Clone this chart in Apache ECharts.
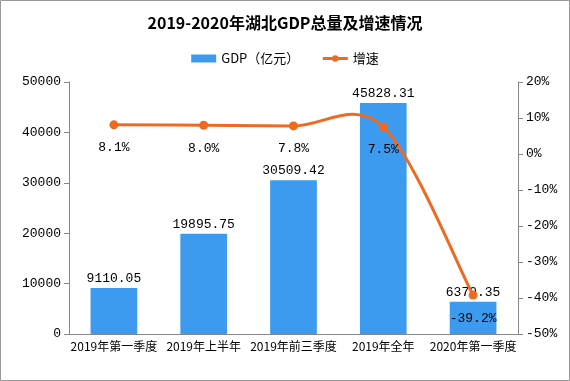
<!DOCTYPE html>
<html><head><meta charset="utf-8">
<script src="https://cdn.jsdelivr.net/npm/echarts@6/dist/echarts.min.js"></script>
<style>html,body{margin:0;padding:0;background:#fff}#c{width:570px;height:381px}</style>
</head><body><div id="c"></div>
<script>
const categories = ['2019年第一季度','2019年上半年','2019年前三季度','2019年全年','2020年第一季度'];
const gdpValues = [9110.05, 19895.75, 30509.42, 45828.31, 6379.35];
const growthValues = [8.1, 8.0, 7.8, 7.5, -39.2];
const leftTicks = [0, 10000, 20000, 30000, 40000, 50000];
const rightTicks = [-50, -40, -30, -20, -10, 0, 10, 20];

const mono = '"Liberation Mono","DejaVu Sans Mono",monospace';
const cjk = '"Noto Sans CJK SC","Noto Sans",sans-serif';
const orange = '#EE6A22';
const chart = echarts.init(document.getElementById('c'));

function curveItem(params, api) {
  if (params.dataIndex !== 0) return null;
  const pts = growthValues.map((v, i) => api.coord([i, v]));
  const n = pts.length;
  let d = 'M' + pts[0][0] + ' ' + pts[0][1];
  for (let i = 0; i < n - 1; i++) {
    const p0 = pts[Math.max(i - 1, 0)], p1 = pts[i], p2 = pts[i + 1], p3 = pts[Math.min(i + 2, n - 1)];
    const c1 = [p1[0] + (p2[0] - p0[0]) / 6, p1[1] + (p2[1] - p0[1]) / 6];
    const c2 = [p2[0] - (p3[0] - p1[0]) / 6, p2[1] - (p3[1] - p1[1]) / 6];
    d += ' C' + c1[0] + ' ' + c1[1] + ' ' + c2[0] + ' ' + c2[1] + ' ' + p2[0] + ' ' + p2[1];
  }
  return {type:'path', shape:{pathData:d}, style:{fill:'none', stroke:orange, lineWidth:3}};
}

chart.setOption({
  animation: false,
  graphic: [{type:'rect', shape:{x:0.5,y:0.5,width:569,height:380}, style:{fill:'none', stroke:'#999', lineWidth:1}}],
  title: {text:'2019-2020年湖北GDP总量及增速情况', left:'center', top:10,
    textStyle:{fontFamily:cjk, fontSize:16, fontWeight:'bold', color:'#000'}},
  legend: {top:47, left:'center', itemGap:22, itemWidth:25, itemHeight:8,
    textStyle:{fontFamily:cjk, fontSize:13, color:'#000'},
    data:[{name:'GDP（亿元）', icon:'rect'},
          {name:'增速', lineStyle:{color:orange, width:3, opacity:1}, itemStyle:{color:orange}}]},
  grid: {left:69, right:52, top:82, bottom:47},
  xAxis: {type:'category', data:categories,
    axisLine:{lineStyle:{color:'#888'}}, axisTick:{lineStyle:{color:'#888'}},
    axisLabel:{color:'#000', fontFamily:cjk, fontSize:12, margin:6, interval:0}},
  yAxis: [
    {type:'value', min:leftTicks[0], max:leftTicks[leftTicks.length-1], interval:10000,
     axisLine:{show:true, lineStyle:{color:'#888'}}, axisTick:{show:true, lineStyle:{color:'#888'}},
     splitLine:{show:false}, axisLabel:{color:'#000', fontFamily:mono, fontSize:13, formatter:v=>String(v)}},
    {type:'value', min:rightTicks[0], max:rightTicks[rightTicks.length-1], interval:10,
     axisLine:{show:true, lineStyle:{color:'#888'}}, axisTick:{show:true, lineStyle:{color:'#888'}},
     splitLine:{show:false}, axisLabel:{color:'#000', fontFamily:mono, fontSize:13, formatter:'{value}%'}}
  ],
  series: [
    {name:'GDP（亿元）', type:'bar', data:gdpValues, barWidth:'52%', itemStyle:{color:'#3D9BEF'},
     label:{show:true, position:'top', color:'#000', fontFamily:mono, fontSize:13, distance:3,
       formatter:p=>p.value.toFixed(2)}},
    {name:'增速曲线', type:'custom', yAxisIndex:1, data:growthValues.map((v,i)=>[i,v]),
     renderItem:curveItem, z:4, silent:true},
    {name:'增速', type:'line', yAxisIndex:1, data:growthValues,
     symbol:'circle', symbolSize:9, lineStyle:{opacity:0}, itemStyle:{color:orange},
     label:{show:true, position:'bottom', distance:12, color:'#000', fontFamily:mono, fontSize:13,
       formatter:p=>p.value.toFixed(1)+'%'}, z:5}
  ]
});
</script></body></html>
